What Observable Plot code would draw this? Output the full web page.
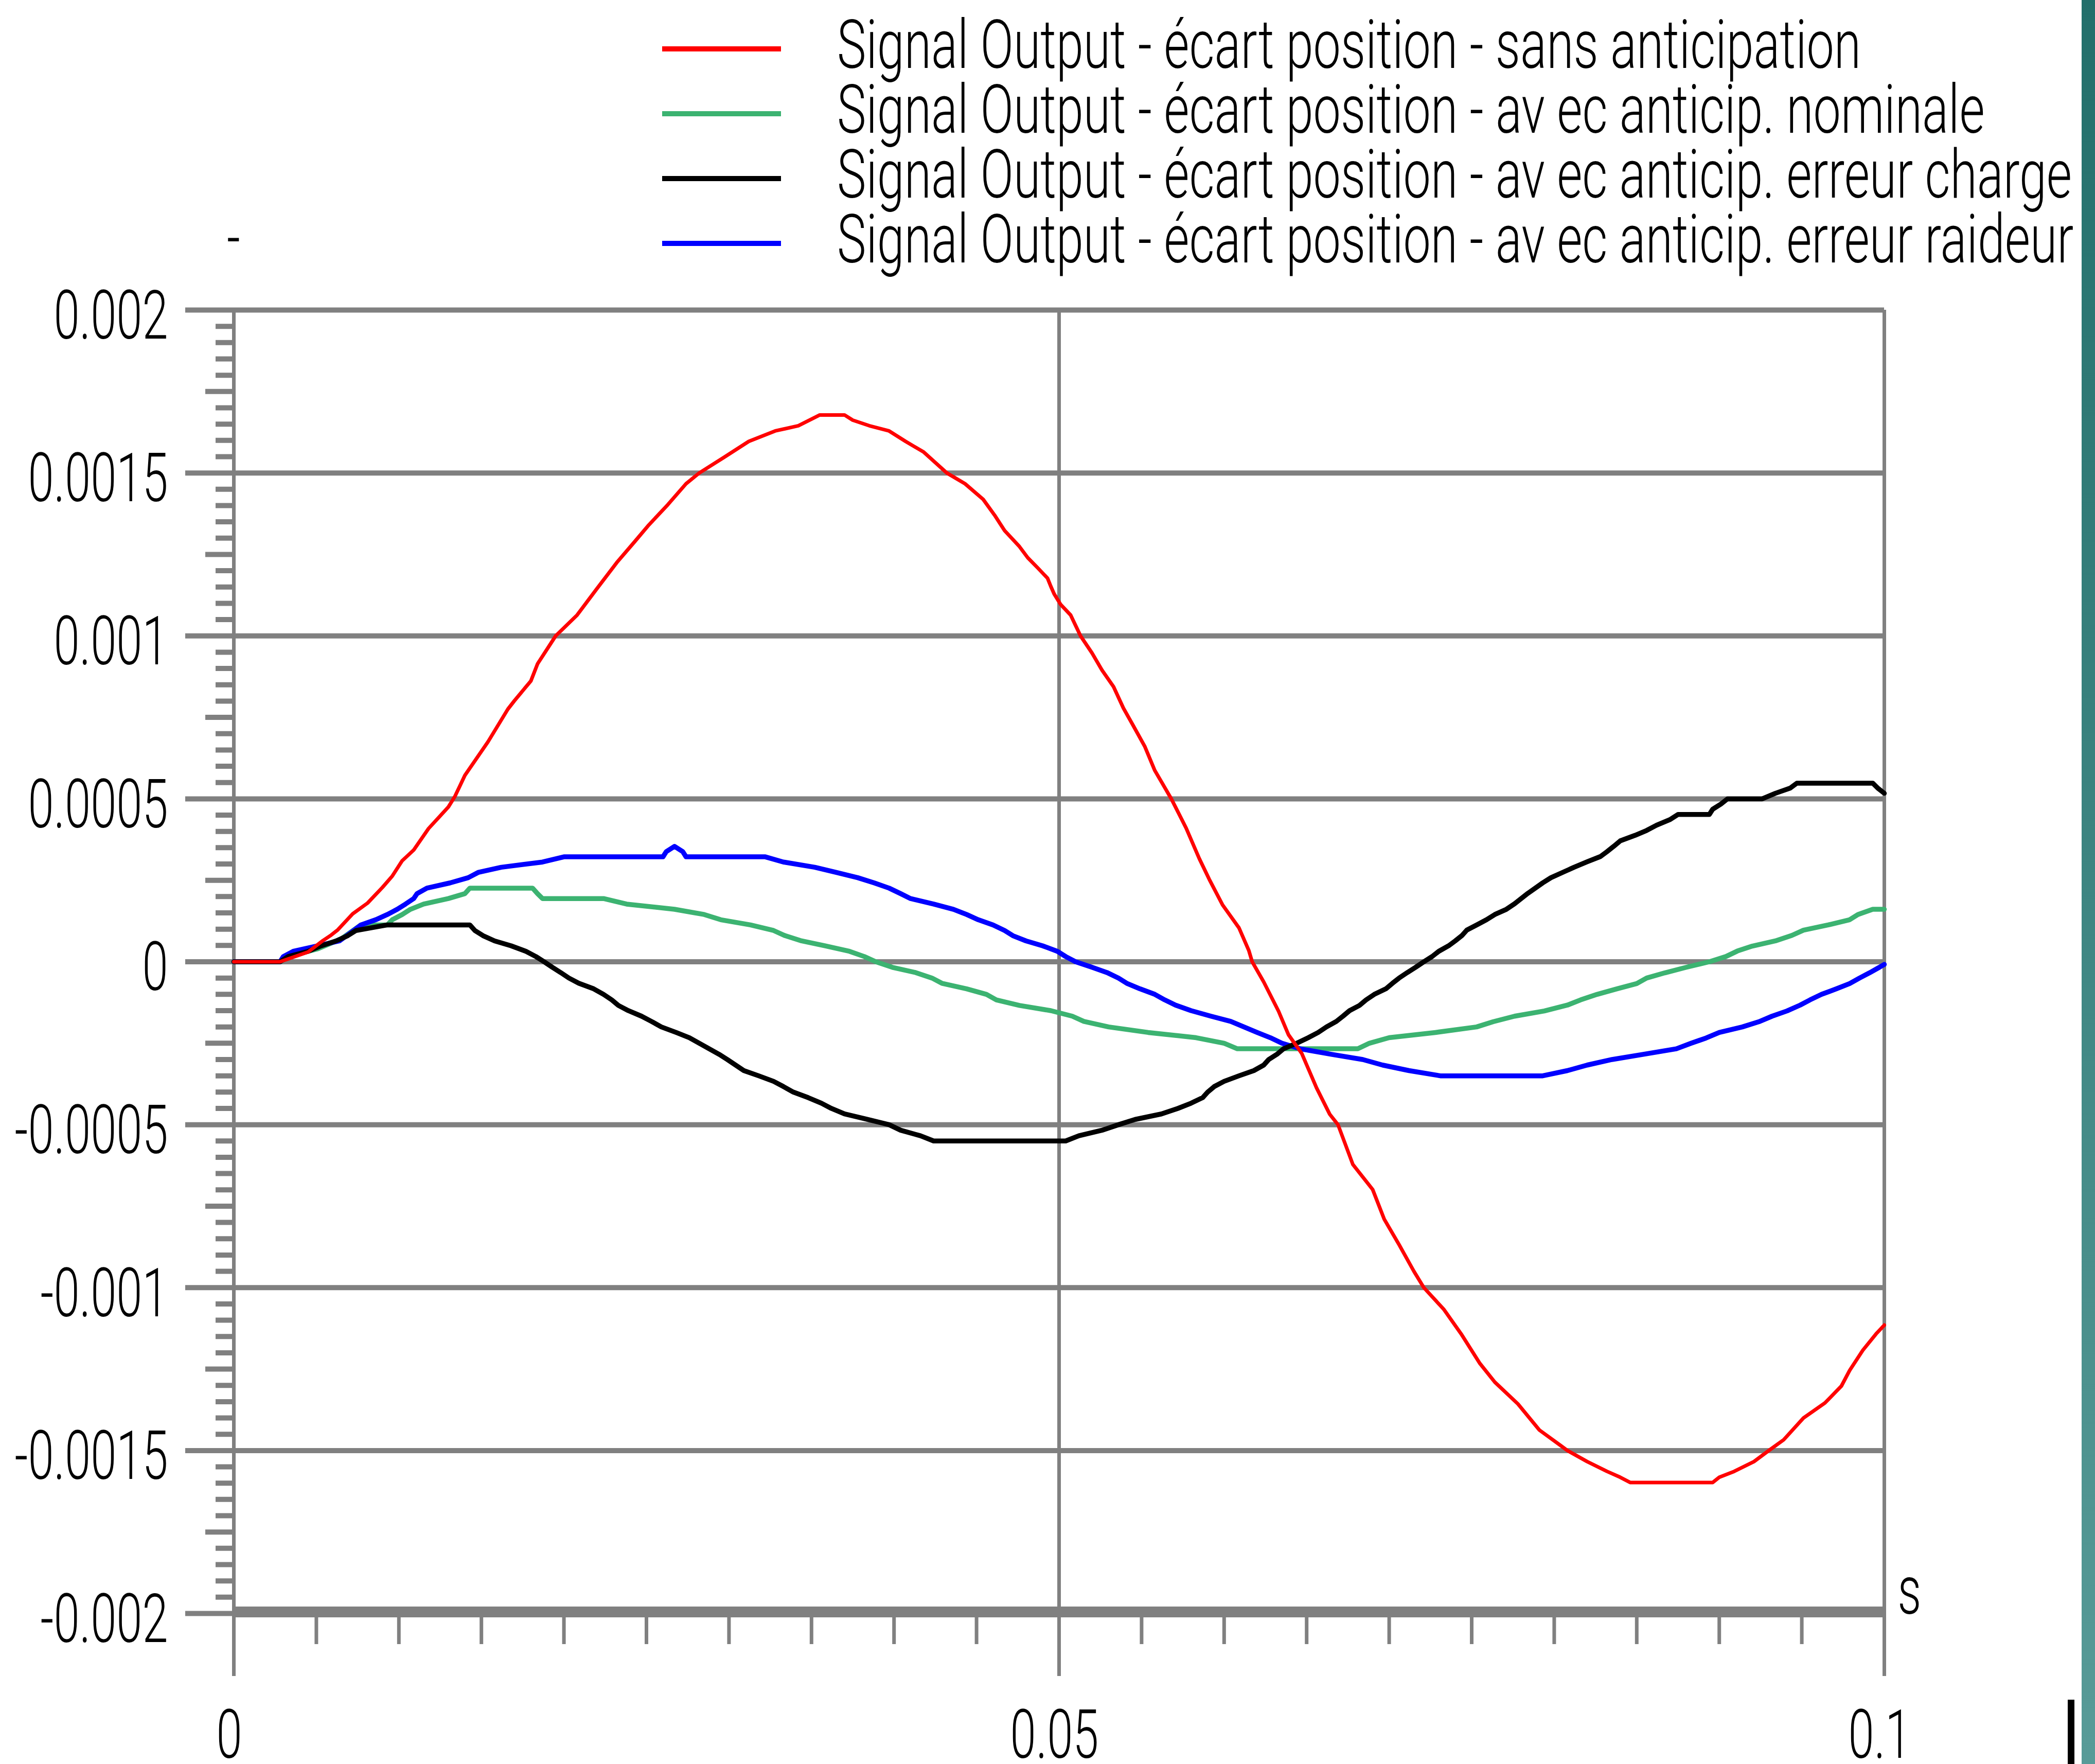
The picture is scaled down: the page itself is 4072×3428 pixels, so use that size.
<!DOCTYPE html>
<html><head><meta charset="utf-8">
<script src="https://cdn.jsdelivr.net/npm/d3@7"></script>
<script src="https://cdn.jsdelivr.net/npm/@observablehq/plot@0.6"></script>
<style>
html,body{margin:0;padding:0;background:#fff;overflow:hidden;}
#wrap{position:relative;width:4072px;height:3428px;background:#fff;}
#chart{position:absolute;left:0;top:0;}
#legend{position:absolute;left:0;top:0;}
#edge{position:absolute;left:4046px;top:0;width:26px;height:3428px;background:linear-gradient(#226f6b,#589b98);}
#mark{position:absolute;left:4019px;top:3303px;width:13px;height:125px;background:#000;}
</style></head>
<body><div id="wrap"><div id="chart"></div><svg id="legend" width="4072" height="560"></svg><div id="edge"></div><div id="mark"></div></div>
<script>
// ---------- data ----------
const seriesNames = [
  "Signal Output - écart position - sans anticipation",
  "Signal Output - écart position - av ec anticip. nominale",
  "Signal Output - écart position - av ec anticip. erreur charge",
  "Signal Output - écart position - av ec anticip. erreur raideur"
];
const seriesColors = ["#ff0000", "#3cb371", "#000000", "#0000ff"];

const yTicks = [0.002, 0.0015, 0.001, 0.0005, 0, -0.0005, -0.001, -0.0015, -0.002];
const yTickLabels = ["0.002", "0.0015", "0.001", "0.0005", "0", "-0.0005", "-0.001", "-0.0015", "-0.002"];
const xTicks = [0, 0.05, 0.1];
const xTickLabels = ["0", "0.05", "0.1"];
const xUnit = "s";
const yUnit = "-";

// [time (s), position error]
const red = [
[0,0],[0.0028,0],[0.0045,0.00003],[0.0054,0.000065],[0.0059,0.000082],[0.0063,0.000098],
[0.0072,0.000147],[0.0081,0.00018],[0.0090,0.000228],[0.0096,0.000263],[0.0102,0.00031],
[0.0109,0.000343],[0.0118,0.000409],[0.0124,0.000442],[0.0130,0.000475],[0.0134,0.000508],
[0.0140,0.000572],[0.0154,0.000675],[0.0166,0.000775],[0.0170,0.000801],[0.0180,0.000862],[0.0184,0.000914],
[0.0195,0.001],[0.0208,0.001064],[0.0220,0.001145],[0.0232,0.001225],[0.0243,0.00129],
[0.0251,0.001338],[0.0263,0.001403],[0.0274,0.001467],[0.0282,0.0015],[0.0297,0.001548],
[0.0312,0.001597],[0.0328,0.001629],[0.0342,0.001645],[0.0355,0.001678],[0.0370,0.001678],
[0.0375,0.001662],[0.0385,0.001645],[0.0397,0.001629],[0.0407,0.001597],[0.0418,0.001564],
[0.0425,0.001532],[0.0432,0.0015],[0.0443,0.001467],[0.0454,0.001419],[0.0461,0.00137],
[0.0467,0.001323],[0.0476,0.001274],[0.0481,0.00124],[0.0487,0.001209],[0.0493,0.001177],
[0.0495,0.001152],[0.0497,0.001129],[0.0501,0.001096],[0.0507,0.001064],[0.0513,0.001],
[0.0520,0.000947],[0.0526,0.000895],[0.0533,0.000844],[0.0539,0.000778],[0.0545,0.000724],
[0.0552,0.00066],[0.0558,0.000587],[0.0564,0.000535],[0.0568,0.0005],[0.0577,0.00041],
[0.0585,0.000316],[0.0591,0.000253],[0.0599,0.000175],[0.0609,0.000104],[0.0615,0.000034],
[0.0617,0],[0.0624,-0.000062],[0.0633,-0.000152],[0.0639,-0.000224],[0.0647,-0.000281],
[0.0656,-0.000387],[0.0664,-0.000468],[0.0669,-0.0005],[0.0678,-0.000622],[0.0690,-0.000699],
[0.0697,-0.00079],[0.0706,-0.000868],[0.0715,-0.00095],[0.0721,-0.001],[0.0733,-0.001066],
[0.0744,-0.001145],[0.0755,-0.001233],[0.0764,-0.00129],[0.0778,-0.001357],[0.0791,-0.001437],
[0.0804,-0.001485],[0.0808,-0.0015],[0.0820,-0.001534],[0.0832,-0.001564],[0.0840,-0.001582],
[0.0846,-0.001598],[0.0896,-0.001598],[0.0900,-0.001582],[0.0909,-0.001564],[0.0921,-0.001534],
[0.0930,-0.0015],[0.0939,-0.001467],[0.0951,-0.0014],[0.0964,-0.001354],[0.0974,-0.001302],
[0.0979,-0.001254],[0.0987,-0.001192],[0.0995,-0.001142],[0.1000,-0.001115]
];

const green = [
[0,0],[0.0028,0],[0.0036,0.00002],[0.0051,0.00004],[0.0065,0.00007],[0.0077,0.000113],
[0.0093,0.000113],[0.0096,0.000129],[0.0102,0.000145],[0.0107,0.000161],[0.0115,0.000177],
[0.0130,0.000194],[0.0140,0.000209],[0.0143,0.000226],[0.0181,0.000226],[0.0184,0.000209],
[0.0187,0.000194],[0.0224,0.000194],[0.0238,0.000177],[0.0267,0.000161],[0.0285,0.000145],
[0.0295,0.000129],[0.0313,0.000113],[0.0327,0.000096],[0.0334,0.00008],[0.0344,0.000064],
[0.0358,0.000049],[0.0373,0.000032],[0.0382,0.000016],[0.0389,0],[0.0399,-0.000017],
[0.0413,-0.000033],[0.0423,-0.00005],[0.0429,-0.000066],[0.0444,-0.000083],[0.0456,-0.0001],
[0.0462,-0.000117],[0.0476,-0.000134],[0.0495,-0.00015],[0.0508,-0.000167],[0.0515,-0.000183],
[0.0530,-0.0002],[0.0554,-0.000217],[0.0583,-0.000233],[0.0600,-0.00025],[0.0608,-0.000267],
[0.0681,-0.000267],[0.0688,-0.00025],[0.0700,-0.000233],[0.0728,-0.000217],[0.0753,-0.0002],
[0.0763,-0.000184],[0.0776,-0.000167],[0.0794,-0.000151],[0.0808,-0.000133],[0.0816,-0.000117],
[0.0826,-0.0001],[0.0838,-0.000083],[0.0850,-0.000067],[0.0856,-0.00005],[0.0867,-0.000034],
[0.0880,-0.000017],[0.0894,0],[0.0904,0.000016],[0.0911,0.000033],[0.0920,0.000048],
[0.0934,0.000064],[0.0944,0.000081],[0.0951,0.000097],[0.0966,0.000113],[0.0979,0.000129],
[0.0984,0.000145],[0.0993,0.000161],[0.1000,0.000161]
];

const black = [
[0,0],[0.0028,0],[0.0033,0.000016],[0.0045,0.000032],[0.0053,0.000049],[0.0062,0.000064],
[0.0069,0.00008],[0.0074,0.000096],[0.0093,0.000113],[0.0143,0.000113],[0.0146,0.000096],
[0.0151,0.00008],[0.0158,0.000064],[0.0168,0.000049],[0.0177,0.000032],[0.0183,0.000016],
[0.0188,0],[0.0193,-0.000017],[0.0198,-0.000033],[0.0203,-0.00005],[0.0209,-0.000066],
[0.0218,-0.000083],[0.0224,-0.0001],[0.0229,-0.000117],[0.0233,-0.000134],[0.0239,-0.00015],
[0.0247,-0.000167],[0.0253,-0.000183],[0.0259,-0.0002],[0.0268,-0.000217],[0.0276,-0.000233],
[0.0282,-0.00025],[0.0288,-0.000267],[0.0294,-0.000284],[0.0299,-0.0003],[0.0304,-0.000317],
[0.0309,-0.000334],[0.0318,-0.00035],[0.0327,-0.000367],[0.0333,-0.000383],[0.0339,-0.0004],
[0.0348,-0.000417],[0.0356,-0.000434],[0.0362,-0.00045],[0.0370,-0.000467],[0.0384,-0.000484],
[0.0397,-0.0005],[0.0404,-0.000517],[0.0416,-0.000534],[0.0424,-0.00055],[0.0504,-0.00055],
[0.0512,-0.000534],[0.0526,-0.000517],[0.0536,-0.0005],[0.0546,-0.000484],[0.0562,-0.000467],
[0.0572,-0.00045],[0.0580,-0.000434],[0.0587,-0.000417],[0.0590,-0.0004],[0.0594,-0.000383],
[0.0600,-0.000367],[0.0609,-0.00035],[0.0618,-0.000334],[0.0624,-0.000317],[0.0627,-0.0003],
[0.0632,-0.000284],[0.0636,-0.000267],[0.0644,-0.00025],[0.0651,-0.000233],[0.0657,-0.000217],
[0.0662,-0.0002],[0.0668,-0.000183],[0.0672,-0.000167],[0.0676,-0.00015],[0.0682,-0.000134],
[0.0686,-0.000117],[0.0691,-0.0001],[0.0698,-0.000083],[0.0702,-0.000066],[0.0706,-0.00005],
[0.0711,-0.000033],[0.0716,-0.000017],[0.0721,0],[0.0726,0.000016],[0.0730,0.000032],
[0.0736,0.000049],[0.0740,0.000064],[0.0744,0.00008],[0.0747,0.000097],[0.0753,0.000113],
[0.0759,0.000129],[0.0764,0.000145],[0.0771,0.000161],[0.0776,0.000178],[0.0784,0.00021],
[0.0793,0.000242],[0.0798,0.000258],[0.0805,0.000274],[0.0812,0.00029],[0.0820,0.000307],
[0.0828,0.000323],[0.0832,0.000338],[0.0836,0.000354],[0.0840,0.000371],[0.0849,0.000388],
[0.0856,0.000403],[0.0862,0.000419],[0.0870,0.000436],[0.0875,0.000452],[0.0894,0.000452],
[0.0896,0.000468],[0.0901,0.000484],[0.0905,0.0005],[0.0926,0.0005],[0.0934,0.000517],
[0.0943,0.000533],[0.0947,0.000548],[0.0993,0.000548],[0.0996,0.000533],[0.1000,0.000517]
];

const blue = [
[0,0],[0.0028,0],[0.0030,0.000016],[0.0036,0.000032],[0.0051,0.000049],[0.0064,0.000064],
[0.0071,0.00009],[0.0077,0.000113],[0.0086,0.000129],[0.0093,0.000145],[0.0099,0.000161],
[0.0104,0.000177],[0.0109,0.000194],[0.0111,0.000209],[0.0117,0.000226],[0.0131,0.000242],
[0.0142,0.000258],[0.0148,0.000274],[0.0162,0.00029],[0.0187,0.000306],[0.0200,0.000322],
[0.0260,0.000322],[0.0262,0.000338],[0.0267,0.000354],[0.0272,0.000338],[0.0274,0.000322],
[0.0322,0.000322],[0.0333,0.000306],[0.0352,0.00029],[0.0365,0.000274],[0.0378,0.000258],
[0.0388,0.000242],[0.0397,0.000226],[0.0404,0.000209],[0.0410,0.000194],[0.0424,0.000177],
[0.0436,0.000161],[0.0444,0.000145],[0.0451,0.000129],[0.0460,0.000113],[0.0467,0.000096],
[0.0472,0.00008],[0.0480,0.000064],[0.0490,0.000049],[0.0499,0.000032],[0.0504,0.000016],
[0.0510,0],[0.0520,-0.000017],[0.0529,-0.000033],[0.0536,-0.00005],[0.0541,-0.000066],
[0.0549,-0.000083],[0.0558,-0.0001],[0.0564,-0.000117],[0.0571,-0.000134],[0.0580,-0.00015],
[0.0592,-0.000167],[0.0604,-0.000183],[0.0612,-0.0002],[0.0620,-0.000217],[0.0628,-0.000233],
[0.0635,-0.00025],[0.0646,-0.000267],[0.0665,-0.000284],[0.0684,-0.0003],[0.0696,-0.000317],
[0.0712,-0.000334],[0.0731,-0.00035],[0.0793,-0.00035],[0.0808,-0.000334],[0.0820,-0.000317],
[0.0835,-0.0003],[0.0854,-0.000284],[0.0874,-0.000267],[0.0883,-0.00025],[0.0892,-0.000234],
[0.0900,-0.000217],[0.0914,-0.0002],[0.0924,-0.000184],[0.0932,-0.000167],[0.0941,-0.000151],
[0.0949,-0.000133],[0.0955,-0.000117],[0.0962,-0.0001],[0.0971,-0.000083],[0.0979,-0.000067],
[0.0985,-0.00005],[0.0991,-0.000034],[0.0997,-0.000017],[0.1000,-0.000008]
];

// ---------- style ----------
const GRAY = "#808080";
const FONT = "Roboto";
const WEIGHT = 300;
const FS = 132;
const TICK_REF_W = 222;   // width of the "0.002" tick label
const LEG_REF_W = 2400;   // width of the third legend row

const yMinorIdx = d3.range(-40, 41).filter(i => i % 10 !== 0);
const yMinor = yMinorIdx.filter(i => i % 5 !== 0).map(i => i * 0.00005);
const yMid = yMinorIdx.filter(i => i % 5 === 0).map(i => i * 0.00005);
const xMinor = d3.range(1, 20).filter(i => i !== 10).map(i => i * 0.005);

const px = d => d[0], py = d => d[1];

const chart = Plot.plot({
  width: 4072, height: 3428,
  marginLeft: 454, marginRight: 410, marginTop: 602, marginBottom: 293,
  style: {fontFamily: FONT, fontWeight: WEIGHT, fontSize: FS + "px", color: "#000", background: "transparent"},
  x: {domain: [0, 0.1]},
  y: {domain: [-0.002, 0.002]},
  marks: [
    Plot.gridY(yTicks, {stroke: GRAY, strokeOpacity: 1, strokeWidth: 10}),
    Plot.ruleY([-0.002], {stroke: GRAY, strokeWidth: 21, dy: -3}),
    Plot.gridX(xTicks, {stroke: GRAY, strokeOpacity: 1, strokeWidth: 7}),
    Plot.axisX(xTicks, {tickSize: 122, text: null, label: null, stroke: GRAY, strokeWidth: 7}),
    Plot.axisX(xMinor, {tickSize: 60, text: null, label: null, stroke: GRAY, strokeWidth: 7}),
    Plot.axisX(xTicks, {tickSize: 0, tickPadding: 187, label: null, fontSize: FS, dx: -9, fill: "#000",
      tickFormat: d => xTickLabels[xTicks.indexOf(d)]}),
    Plot.axisY(yTicks, {tickSize: 94, text: null, label: null, stroke: GRAY, strokeWidth: 10}),
    Plot.axisY(yMinor, {tickSize: 35, text: null, label: null, stroke: GRAY, strokeWidth: 10}),
    Plot.axisY(yMid, {tickSize: 55, text: null, label: null, stroke: GRAY, strokeWidth: 10}),
    Plot.axisY(yTicks, {tickSize: 0, tickPadding: 128, label: null, fontSize: FS, dy: 13, fill: "#000",
      tickFormat: d => yTickLabels[yTicks.indexOf(d)]}),
    Plot.line(green, {x: px, y: py, stroke: seriesColors[1], strokeWidth: 9.5}),
    Plot.line(blue, {x: px, y: py, stroke: seriesColors[3], strokeWidth: 9.5}),
    Plot.line(black, {x: px, y: py, stroke: seriesColors[2], strokeWidth: 9.5}),
    Plot.line(red, {x: px, y: py, stroke: seriesColors[0], strokeWidth: 7}),
    Plot.text([xUnit], {frameAnchor: "bottom-right", textAnchor: "start", lineAnchor: "bottom", dx: 26, fontSize: FS, fill: "#000"})
  ]
});
document.getElementById("chart").appendChild(chart);

function condense(textEl, k) {
  const L = textEl.getComputedTextLength();
  if (L > 0) {
    textEl.setAttribute("textLength", (L * k).toFixed(1));
    textEl.setAttribute("lengthAdjust", "spacingAndGlyphs");
  }
}
const allTicks = Array.from(chart.querySelectorAll("text"));
const refTick = allTicks.find(t => t.textContent === "0.002");
const kTick = refTick ? TICK_REF_W / refTick.getComputedTextLength() : 0.6;
allTicks.forEach(t => condense(t, kTick));

// ---------- legend ----------
const leg = d3.select("#legend");
const rowStep = 126, firstBase = 132, swatchOff = -37;
const legTexts = seriesNames.map((name, i) => {
  const base = firstBase + i * rowStep;
  leg.append("line")
    .attr("x1", 1287).attr("x2", 1518)
    .attr("y1", base + swatchOff).attr("y2", base + swatchOff)
    .attr("stroke", seriesColors[i]).attr("stroke-width", 10);
  return leg.append("text")
    .attr("x", 1627).attr("y", base)
    .attr("font-family", FONT).attr("font-weight", WEIGHT).attr("font-size", FS)
    .attr("fill", "#000")
    .text(name).node();
});
const kLeg = LEG_REF_W / legTexts[2].getComputedTextLength();
legTexts.forEach(t => condense(t, kLeg));
const yu = leg.append("text").attr("x", 454).attr("y", 507).attr("text-anchor", "middle")
  .attr("font-family", FONT).attr("font-weight", WEIGHT).attr("font-size", FS).attr("fill", "#000").text(yUnit);
condense(yu.node(), kTick);
</script>
</body></html>
